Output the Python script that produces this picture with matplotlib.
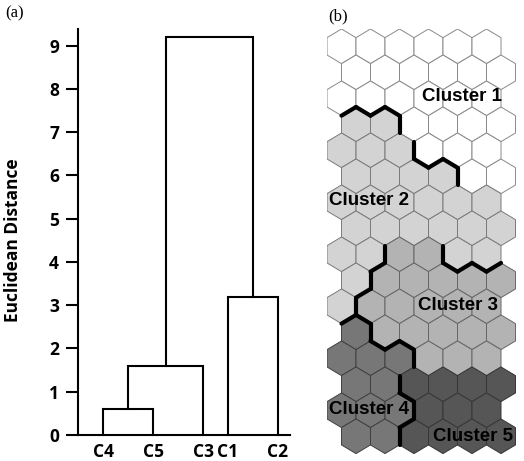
import matplotlib
matplotlib.use('Agg')
import matplotlib.pyplot as plt
from matplotlib.collections import PolyCollection, LineCollection
import numpy as np

# ---------------- data ----------------
# (a) dendrogram
leaves = ['C4', 'C5', 'C3', 'C1', 'C2']
merges = [('C4', 'C5', 0.6),
          ('C4+C5', 'C3', 1.6),
          ('C1', 'C2', 3.2),
          ('C4+C5+C3', 'C1+C2', 9.2)]
y_ticks = [0, 1, 2, 3, 4, 5, 6, 7, 8, 9]
y_label = 'Euclidean Distance'

# (b) SOM map, cluster id of each hexagon (16 rows x 6 columns)
som_clusters = [
    [1, 1, 1, 1, 1, 1],
    [1, 1, 1, 1, 1, 1],
    [1, 1, 1, 1, 1, 1],
    [2, 2, 1, 1, 1, 1],
    [2, 2, 2, 1, 1, 1],
    [2, 2, 2, 2, 1, 1],
    [2, 2, 2, 2, 2, 2],
    [2, 2, 2, 2, 2, 2],
    [2, 2, 3, 3, 2, 2],
    [2, 3, 3, 3, 3, 3],
    [2, 3, 3, 3, 3, 3],
    [4, 3, 3, 3, 3, 3],
    [4, 4, 4, 3, 3, 3],
    [4, 4, 5, 5, 5, 5],
    [4, 4, 4, 5, 5, 5],
    [4, 4, 5, 5, 5, 5],
]
cluster_names = ['Cluster 1', 'Cluster 2', 'Cluster 3', 'Cluster 4', 'Cluster 5']

# ---------------- styles / layout ----------------
leaf_x = [1, 3, 5, 6, 8]
cluster_face = {1: '#ffffff', 2: '#d3d3d3', 3: '#b3b3b3', 4: '#777777', 5: '#565656'}
cluster_edge = {1: '#8a8a8a', 2: '#7a7a7a', 3: '#666666', 4: '#404040', 5: '#363636'}
label_pos = {1: (4.17, 1.74), 2: (0.95, 5.33), 3: (4.02, 8.95), 4: (0.95, 12.54), 5: (4.52, 13.44)}

W, H = 524, 461
fig = plt.figure(figsize=(W / 100, H / 100), dpi=100)

tick_font = dict(family=['Open Sans', 'DejaVu Sans'], weight='bold', size=12.5)

# ---------------- (a) dendrogram ----------------
ax1 = fig.add_axes([78 / W, (H - 435) / H, 212 / W, 405.7 / H])
nodes = {name: (x, 0.0) for name, x in zip(leaves, leaf_x)}
for left, right, h in merges:
    xl, hl = nodes[left]
    xr, hr = nodes[right]
    ax1.plot([xl, xl, xr, xr], [hl, h, h, hr], color='black', lw=1.5,
             solid_joinstyle='miter', clip_on=False)
    nodes[left + '+' + right] = ((xl + xr) / 2, h)

ax1.set_xlim(0, 8.48)
ax1.set_ylim(0, 9.38)
for s in ['top', 'right']:
    ax1.spines[s].set_visible(False)
for s in ['left', 'bottom']:
    ax1.spines[s].set_linewidth(1.5)
ax1.set_yticks(y_ticks)
ax1.set_yticklabels([str(t) for t in y_ticks], fontdict=tick_font)
ax1.set_xticks(leaf_x)
ax1.set_xticklabels(leaves, fontdict=tick_font)
ax1.tick_params(axis='y', direction='out', length=8.6, width=1.5, pad=5)
ax1.tick_params(axis='x', length=0, pad=6)
ax1.set_ylabel(y_label, fontdict=dict(family=['Open Sans', 'DejaVu Sans'], weight='bold', size=12.5))
ax1.yaxis.set_label_coords(-0.262, 0.48)
fig.text(15 / W, 1 - 13.5 / H, '(a)', family='Liberation Serif', size=12, ha='center', va='center')

# ---------------- (b) SOM hex map ----------------
dy = 26 / 29.0          # row spacing in units of hex width
R = 17.33 / 29.0        # vertical radius of a hexagon
nrows = len(som_clusters)
ncols = len(som_clusters[0])
ax2 = fig.add_axes([327 / W, (H - 453.6) / H, 188.5 / W, 424.6 / H])
ax2.set_xlim(-0.5, ncols)
ax2.set_ylim((nrows - 1) * dy + R, -R)
ax2.axis('off')

offs = [(0, -R), (0.5, -R / 2), (0.5, R / 2), (0, R), (-0.5, R / 2), (-0.5, -R / 2)]
polys, faces, edges = [], [], []
edge_map = {}
for r, row in enumerate(som_clusters):
    for c, cl in enumerate(row):
        cx = c + 0.5 * (r % 2)
        cy = r * dy
        verts = [(cx + ox, cy + oy) for ox, oy in offs]
        polys.append(verts)
        faces.append(cluster_face[cl])
        edges.append(cluster_edge[cl])
        for i in range(6):
            a = verts[i]
            b = verts[(i + 1) % 6]
            key = tuple(sorted([(round(a[0], 3), round(a[1], 3)), (round(b[0], 3), round(b[1], 3))]))
            edge_map.setdefault(key, []).append(cl)

ax2.add_collection(PolyCollection(polys, facecolors=faces, edgecolors=edges, linewidths=0.7))

thick = [list(k) for k, v in edge_map.items() if len(v) == 2 and v[0] != v[1]]
ax2.add_collection(LineCollection(thick, colors='black', linewidths=3.0, capstyle='round'))

for i, name in enumerate(cluster_names):
    x, y = label_pos[i + 1]
    ax2.text(x, y, name, family='Liberation Sans', weight='bold', size=13.5,
             ha='center', va='center', color='black', clip_on=False)

fig.text(338.5 / W, 1 - 16 / H, '(b)', family='Liberation Serif', size=12, ha='center', va='center')

fig.savefig('out.png', dpi=100)
